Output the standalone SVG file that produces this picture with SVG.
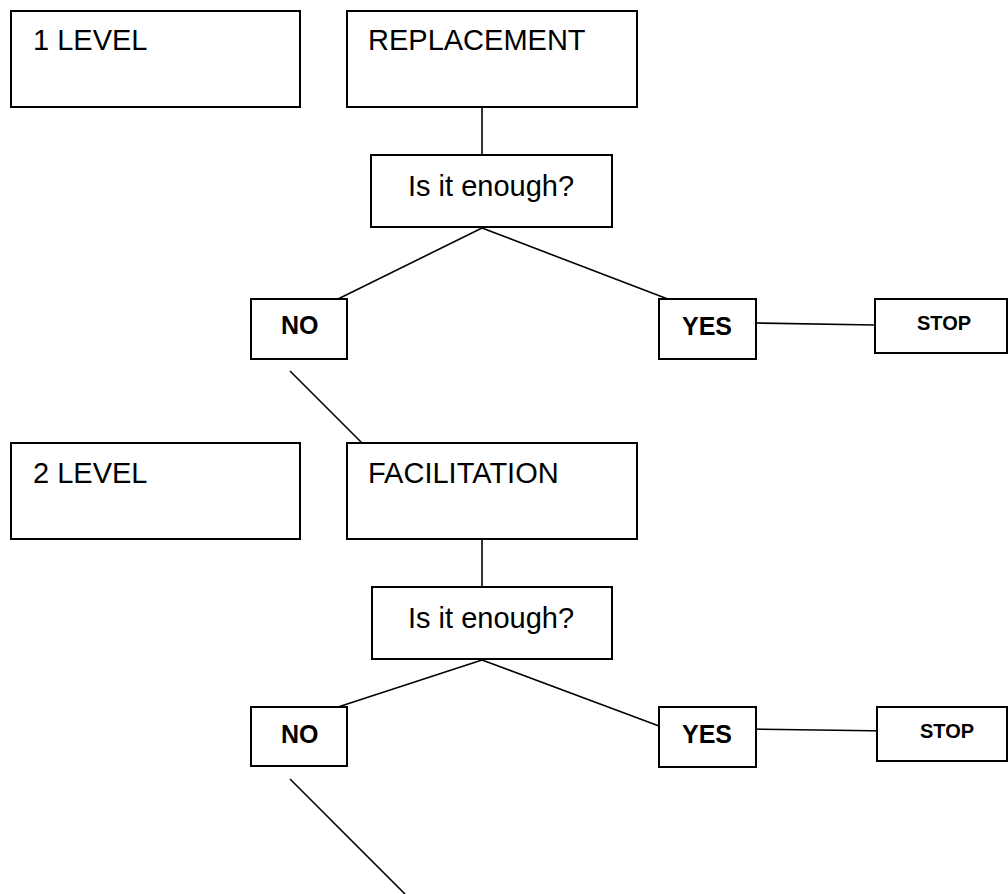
<svg xmlns="http://www.w3.org/2000/svg" width="1008" height="894" viewBox="0 0 1008 894">
<style>
.box{fill:#fff;stroke:#000;stroke-width:2}
.t{font-family:"Liberation Sans",Arial,sans-serif;font-size:29px;fill:#000}
.b{font-family:"Liberation Sans",Arial,sans-serif;font-size:25px;font-weight:bold;fill:#000}
.s{font-family:"Liberation Sans",Arial,sans-serif;font-size:20px;font-weight:bold;fill:#000}
.ln{stroke:#000;stroke-width:1.6;fill:none}
</style>
<rect width="1008" height="894" fill="#fff"/>
<g id="connectors">
<line class="ln" x1="482" y1="107" x2="482" y2="155"/>
<line class="ln" x1="482" y1="228" x2="338" y2="299"/>
<line class="ln" x1="482" y1="228" x2="673" y2="301"/>
<line class="ln" x1="756" y1="323" x2="875" y2="325"/>
<line class="ln" x1="290" y1="371" x2="362" y2="443"/>
<line class="ln" x1="482" y1="539" x2="482" y2="587"/>
<line class="ln" x1="482" y1="660" x2="338" y2="707"/>
<line class="ln" x1="482" y1="660" x2="659" y2="726"/>
<line class="ln" x1="746" y1="729" x2="890" y2="731"/>
<line class="ln" x1="290" y1="779" x2="405" y2="894"/>
</g>
<g id="level1">
<rect class="box" x="11" y="11" width="289" height="96"/>
<text class="t" x="33" y="50">1 LEVEL</text>
</g>
<g id="replacement">
<rect class="box" x="347" y="11" width="290" height="96"/>
<text class="t" x="368" y="50">REPLACEMENT</text>
</g>
<g id="enough1">
<rect class="box" x="371" y="155" width="241" height="72"/>
<text class="t" x="408" y="196">Is it enough?</text>
</g>
<g id="no1">
<rect class="box" x="251" y="299" width="96" height="60"/>
<text class="b" x="281" y="334">NO</text>
</g>
<g id="yes1">
<rect class="box" x="659" y="299" width="97" height="60"/>
<text class="b" x="682" y="335">YES</text>
</g>
<g id="stop1">
<rect class="box" x="875" y="299" width="132" height="54"/>
<text class="s" x="917" y="330">STOP</text>
</g>
<g id="level2">
<rect class="box" x="11" y="443" width="289" height="96"/>
<text class="t" x="33" y="483">2 LEVEL</text>
</g>
<g id="facilitation">
<rect class="box" x="347" y="443" width="290" height="96"/>
<text class="t" x="368" y="483">FACILITATION</text>
</g>
<g id="enough2">
<rect class="box" x="372" y="587" width="240" height="72"/>
<text class="t" x="408" y="628">Is it enough?</text>
</g>
<g id="no2">
<rect class="box" x="251" y="707" width="96" height="59"/>
<text class="b" x="281" y="743">NO</text>
</g>
<g id="yes2">
<rect class="box" x="659" y="707" width="97" height="60"/>
<text class="b" x="682" y="743">YES</text>
</g>
<g id="stop2">
<rect class="box" x="877" y="707" width="130" height="54"/>
<text class="s" x="920" y="738">STOP</text>
</g>
</svg>
